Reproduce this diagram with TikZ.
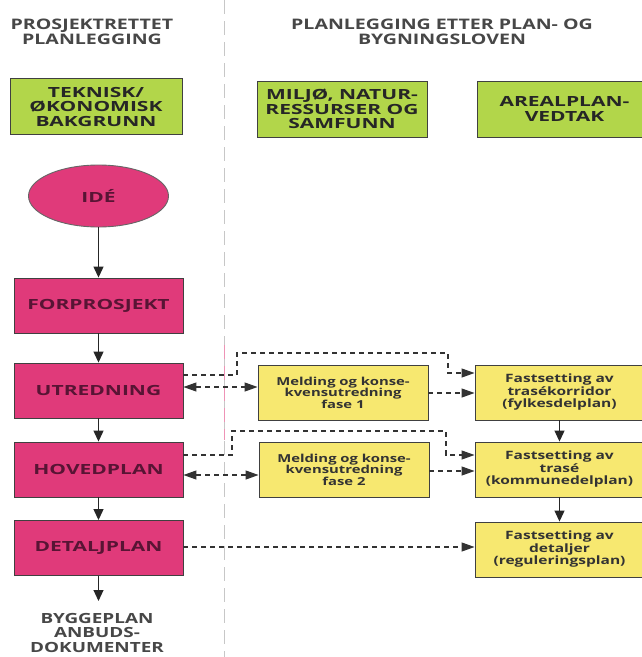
\documentclass[tikz,border=0pt]{standalone}
\usepackage{fontspec}
\setmainfont{Open Sans}[FakeStretch=1.35]
\newfontfamily\widefont{Open Sans}[FakeStretch=1.5]
\usetikzlibrary{arrows.meta,shapes.geometric}
\definecolor{pinkfill}{RGB}{224,58,122}
\definecolor{plum}{RGB}{88,20,52}
\definecolor{greenfill}{RGB}{178,214,74}
\definecolor{yellowfill}{RGB}{247,232,112}
\begin{document}
\begin{tikzpicture}[x=1pt,y=-1pt,
  box/.style={draw=black!75, line width=0.9pt, align=center, inner sep=0pt},
  pinkbox/.style={box, fill=pinkfill, text=plum, font=\widefont\bfseries\fontsize{14}{15}\selectfont, minimum width=169pt, minimum height=55pt},
  greenbox/.style={box, fill=greenfill, text=black!85, font=\widefont\bfseries\fontsize{14}{14.5}\selectfont, minimum height=56pt},
  midbox/.style={box, fill=yellowfill, text=black!80, font=\bfseries\fontsize{11}{11.5}\selectfont, minimum width=170pt, minimum height=55pt},
  rightbox/.style={box, fill=yellowfill, text=black!80, font=\bfseries\fontsize{11.5}{12.5}\selectfont, minimum width=169pt, minimum height=55pt},
  head/.style={align=center, text=black!72, font=\bfseries\fontsize{14.5}{15}\selectfont},
  flow/.style={draw=black!85, line width=1.1pt, -{Triangle[length=11pt,width=10pt]}},
  dline/.style={draw=black!80, line width=1.2pt, dash pattern=on 5pt off 4pt},
  dtip/.style={dline, -{Triangle[length=13pt,width=9pt]}},
  dboth/.style={dline, {Triangle[length=13pt,width=9pt]}-{Triangle[length=13pt,width=9pt]}},
  sepline/.style={draw=black!22, line width=0.8pt, dash pattern=on 14pt off 7pt}
]
\useasboundingbox[fill=white] (0,0) rectangle (642,657);

% separator
\draw[sepline] (224,0) -- (224,657);
\draw[draw=pinkfill!55, line width=0.8pt, dash pattern=on 14pt off 7pt] (224,345) -- (224,440);

% headers
\node[head] (h1) at (92,32) {PROSJEKTRETTET\\PLANLEGGING};
\node[head] (h2) at (442,32) {PLANLEGGING ETTER PLAN- OG\\BYGNINGSLOVEN};

% green boxes
\node[greenbox, minimum width=172pt] (g1) at (96,106.5) {TEKNISK/\\ØKONOMISK\\BAKGRUNN};
\node[greenbox, minimum width=170pt] (g2) at (342,109) {MILJØ, NATUR-\\RESSURSER OG\\SAMFUNN};
\node[greenbox, minimum width=175pt] (g3) at (564.5,109) {AREALPLAN-\\VEDTAK};

% left column
\node[ellipse, draw=black!60, line width=0.9pt, fill=pinkfill, text=plum, inner sep=0pt,
      minimum width=140pt, minimum height=62pt, font=\widefont\bfseries\fontsize{14}{15}\selectfont] (ide) at (98.5,196) {IDÉ};
\node[pinkbox] (forp) at (98.5,305.5) {FORPROSJEKT};
\node[pinkbox] (utr) at (98.5,390.5) {UTREDNING};
\node[pinkbox] (hov) at (98.5,469.5) {HOVEDPLAN};
\node[pinkbox] (det) at (98.5,548) {DETALJPLAN};
\coordinate (endp) at (98.5,601);
\node[head, font=\bfseries\fontsize{14}{14.5}\selectfont] (bygg) at (97,632.5) {BYGGEPLAN\\ANBUDS-\\DOKUMENTER};

% middle column
\node[midbox] (mb1) at (343,392.5) {Melding og konse-\\kvensutredning\\fase 1};
\node[midbox] (mb2) at (344,469.5) {Melding og konse-\\kvensutredning\\fase 2};

% right column
\node[rightbox] (rb1) at (559.5,392.5) {Fastsetting av\\trasékorridor\\(fylkesdelplan)};
\node[rightbox] (rb2) at (559.5,469.5) {Fastsetting av\\trasé\\(kommunedelplan)};
\node[rightbox] (rb3) at (559.5,549.5) {Fastsetting av\\detaljer\\(reguleringsplan)};

% solid flow arrows
\draw[flow] (ide.south) -- (forp.north);
\draw[flow] (forp) -- (utr);
\draw[flow] (utr) -- (hov);
\draw[flow] (hov) -- (det);
\draw[flow] (det.south) -- (endp);
\draw[flow] (rb1) -- (rb2);
\draw[flow] (rb2) -- (rb3);

% dashed connectors row 1
\draw[dtip] (utr.east |- 0,375) -- (237,375) -- (237,353) -- (448,353) -- (448,373) -- (rb1.west |- 0,373);
\draw[dboth] (utr.east |- 0,387) -- (mb1.west |- 0,387);
\draw[dtip] (mb1.east |- 0,393) -- (rb1.west |- 0,393);

% dashed connectors row 2
\draw[dtip] (hov.east |- 0,455) -- (232,455) -- (232,431) -- (446,431) -- (446,455) -- (rb2.west |- 0,455);
\draw[dboth] (hov.east |- 0,475) -- (mb2.west |- 0,475);
\draw[dtip] (mb2.east |- 0,471) -- (rb2.west |- 0,471);

% row 3
\draw[dtip] (det.east |- 0,547) -- (rb3.west |- 0,547);
\end{tikzpicture}
\end{document}
